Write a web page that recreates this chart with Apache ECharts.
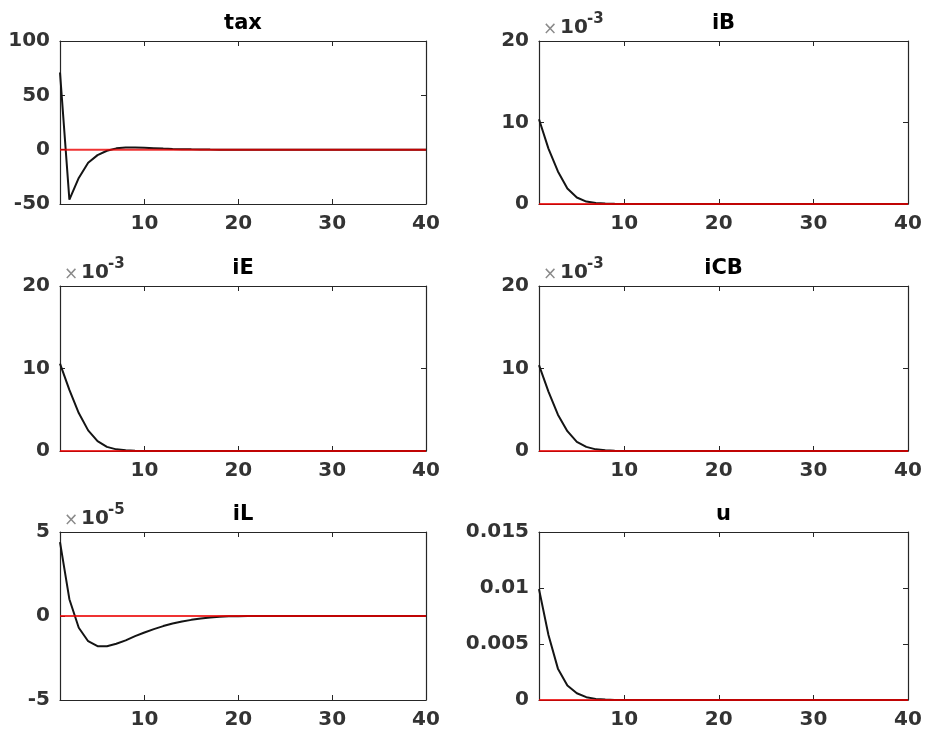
<!DOCTYPE html>
<html><head><meta charset="utf-8">
<script src="https://cdn.jsdelivr.net/npm/echarts@6/dist/echarts.min.js"></script>
<style>html,body{margin:0;padding:0;background:#fff}#c{width:925px;height:735px}</style>
</head><body><div id="c"></div>
<script>
// ---- data ----
const periods = [1,2,3,4,5,6,7,8,9,10,11,12,13,14,15,16,17,18,19,20,21,22,23,24,25,26,27,28,29,30,31,32,33,34,35,36,37,38,39,40];
const xTickValues = [10, 20, 30, 40];
const panelTitles = ['tax', 'iB', 'iE', 'iCB', 'iL', 'u'];

const taxValues = [71, -46, -26, -12, -5, -1, 1.2, 2, 2.1, 1.8, 1.4, 1.0, 0.7, 0.45, 0.28, 0.16, 0.08, 0.03, 0.01, 0,
  0,0,0,0,0,0,0,0,0,0, 0,0,0,0,0,0,0,0,0,0];
const iBValues = [0.0104, 0.0068, 0.0040, 0.0019, 0.0008, 0.0003, 0.00012, 0.00005, 0.00002, 0.00001,
  0,0,0,0,0,0,0,0,0,0, 0,0,0,0,0,0,0,0,0,0, 0,0,0,0,0,0,0,0,0,0];
const iEValues = [0.0106, 0.0074, 0.0046, 0.0025, 0.0012, 0.0005, 0.0002, 0.00008, 0.00003, 0.00001,
  0,0,0,0,0,0,0,0,0,0, 0,0,0,0,0,0,0,0,0,0, 0,0,0,0,0,0,0,0,0,0];
const iCBValues = [0.0104, 0.0072, 0.0044, 0.0024, 0.0011, 0.0005, 0.0002, 0.00008, 0.00003, 0.00001,
  0,0,0,0,0,0,0,0,0,0, 0,0,0,0,0,0,0,0,0,0, 0,0,0,0,0,0,0,0,0,0];
const iLValues = [4.4e-5, 1.0e-5, -0.7e-5, -1.5e-5, -1.8e-5, -1.8e-5, -1.65e-5, -1.45e-5, -1.2e-5, -0.98e-5,
  -0.78e-5, -0.6e-5, -0.45e-5, -0.33e-5, -0.23e-5, -0.15e-5, -0.09e-5, -0.05e-5, -0.02e-5, -0.01e-5,
  0,0,0,0,0,0,0,0,0,0, 0,0,0,0,0,0,0,0,0,0];
const uValues = [0.0099, 0.0058, 0.0028, 0.0013, 0.0006, 0.00025, 0.0001, 0.00004, 0.00001, 0,
  0,0,0,0,0,0,0,0,0,0, 0,0,0,0,0,0,0,0,0,0, 0,0,0,0,0,0,0,0,0,0];
const steadyState = [0,0,0,0,0,0,0,0,0,0, 0,0,0,0,0,0,0,0,0,0, 0,0,0,0,0,0,0,0,0,0, 0,0,0,0,0,0,0,0,0,0];

const taxTicks = [-50, 0, 50, 100];
const milliTicks = [0, 0.01, 0.02];      // shown as 0, 10, 20 with ×10^-3
const iLTicks = [-5e-5, 0, 5e-5];        // shown as -5, 0, 5 with ×10^-5
const uTicks = [0, 0.005, 0.01, 0.015];

// ---- layout / style ----
const FONT = 'DejaVu Sans';
const panels = [
  { vals: taxValues, ticks: taxTicks, scale: 1, exp: null, box: { left: 60, top: 41, width: 366, height: 163 } },
  { vals: iBValues, ticks: milliTicks, scale: 1e3, exp: '-3', box: { left: 539, top: 41, width: 369, height: 163 } },
  { vals: iEValues, ticks: milliTicks, scale: 1e3, exp: '-3', box: { left: 60, top: 286, width: 366, height: 165 } },
  { vals: iCBValues, ticks: milliTicks, scale: 1e3, exp: '-3', box: { left: 539, top: 286, width: 369, height: 165 } },
  { vals: iLValues, ticks: iLTicks, scale: 1e5, exp: '-5', box: { left: 60, top: 532, width: 366, height: 168 } },
  { vals: uValues, ticks: uTicks, scale: 1, exp: null, box: { left: 539, top: 532, width: 369, height: 168 } }
];

function fmt(scale) {
  return function (v) {
    if (scale === 1) return String(+v.toPrecision(6));
    return String(Math.round(v * scale));
  };
}

const lineCol = '#262626';
const grid = [], xAxis = [], yAxis = [], series = [], graphic = [];
panels.forEach((p, i) => {
  grid.push({ left: p.box.left, top: p.box.top, width: p.box.width, height: p.box.height, containLabel: false });
  const common = { type: 'value', gridIndex: i, splitLine: { show: false },
    axisLine: { show: true, onZero: false, lineStyle: { color: lineCol, width: 1.2 } } };
  xAxis.push(Object.assign({}, common, { position: 'bottom', min: periods[0], max: periods[periods.length - 1],
    axisTick: { show: true, inside: true, length: 5, customValues: xTickValues, lineStyle: { color: lineCol } },
    axisLabel: { show: true, customValues: xTickValues, margin: 10, fontFamily: FONT, fontWeight: 'bold', fontSize: 20, color: '#333' } }));
  xAxis.push(Object.assign({}, common, { position: 'top', min: periods[0], max: periods[periods.length - 1],
    axisTick: { show: true, inside: true, length: 5, customValues: xTickValues, lineStyle: { color: lineCol } },
    axisLabel: { show: false } }));
  const ymin = p.ticks[0], ymax = p.ticks[p.ticks.length - 1];
  yAxis.push(Object.assign({}, common, { position: 'left', min: ymin, max: ymax,
    axisTick: { show: true, inside: true, length: 5, customValues: p.ticks, lineStyle: { color: lineCol } },
    axisLabel: { show: true, customValues: p.ticks, margin: 10, formatter: fmt(p.scale), fontFamily: FONT, fontWeight: 'bold', fontSize: 20, color: '#333' } }));
  yAxis.push(Object.assign({}, common, { position: 'right', min: ymin, max: ymax,
    axisTick: { show: true, inside: true, length: 5, customValues: p.ticks, lineStyle: { color: lineCol } },
    axisLabel: { show: false } }));

  series.push({ type: 'line', xAxisIndex: 2 * i, yAxisIndex: 2 * i, symbol: 'none', silent: true,
    data: periods.map((t, k) => [t, p.vals[k]]), lineStyle: { color: '#141414', width: 2 }, z: 2 });
  series.push({ type: 'line', xAxisIndex: 2 * i, yAxisIndex: 2 * i, symbol: 'none', silent: true,
    data: periods.map((t, k) => [t, steadyState[k]]), lineStyle: { color: 'rgba(235,0,0,0.8)', width: 2 }, z: 3 });

  graphic.push({ type: 'text', x: p.box.left + p.box.width / 2, y: p.box.top - 17,
    style: { text: panelTitles[i], textAlign: 'center', textVerticalAlign: 'middle', fontFamily: FONT, fontWeight: 'bold', fontSize: 21, fill: '#000' } });
  if (p.exp) {
    graphic.push({ type: 'text', x: p.box.left + 4, y: p.box.top - 11,
      style: { text: '×', textAlign: 'left', textVerticalAlign: 'middle', fontFamily: FONT, fontSize: 17, fill: '#8a8a8a' } });
    graphic.push({ type: 'text', x: p.box.left + 21, y: p.box.top - 13,
      style: { text: '10', textAlign: 'left', textVerticalAlign: 'middle', fontFamily: FONT, fontWeight: 'bold', fontSize: 20, fill: '#333' } });
    graphic.push({ type: 'text', x: p.box.left + 48, y: p.box.top - 22,
      style: { text: p.exp, textAlign: 'left', textVerticalAlign: 'middle', fontFamily: FONT, fontWeight: 'bold', fontSize: 15, fill: '#333' } });
  }
});

const chart = echarts.init(document.getElementById('c'), null, { renderer: 'canvas' });
chart.setOption({ animation: false, backgroundColor: '#fff', grid, xAxis, yAxis, series, graphic });
</script>
</body></html>
